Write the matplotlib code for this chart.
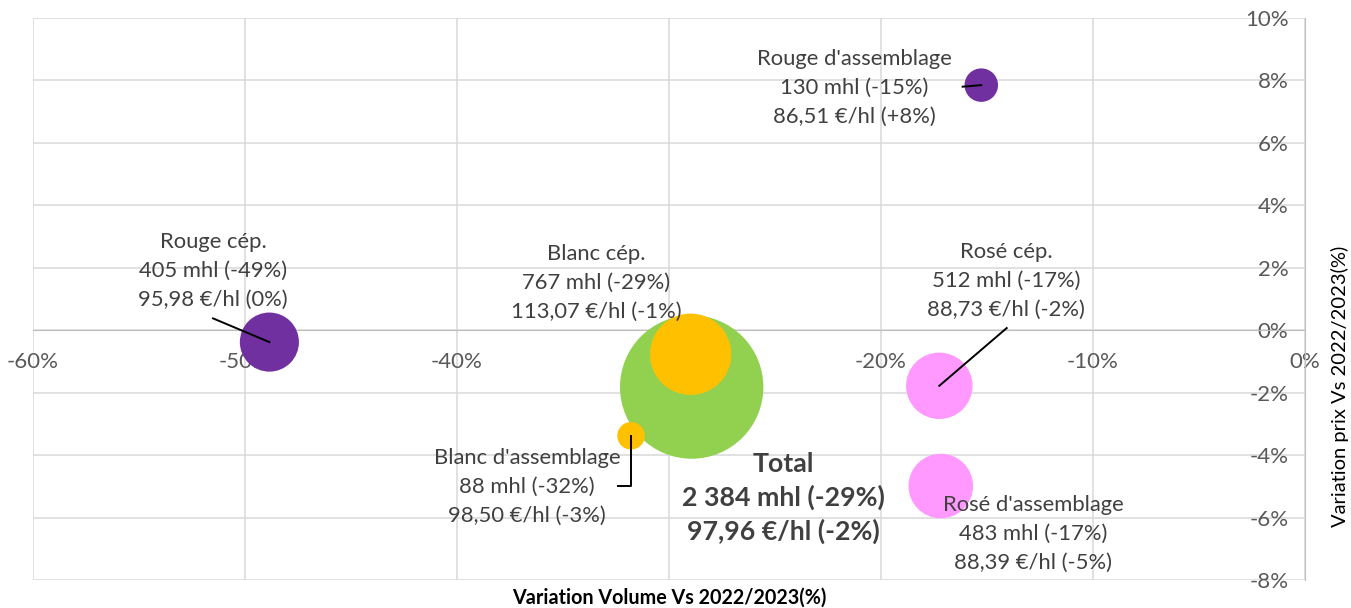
import matplotlib
matplotlib.use("Agg")
import matplotlib.pyplot as plt
from matplotlib.ticker import FuncFormatter

plt.rcParams['font.family'] = ['Lato', 'DejaVu Sans']

# Données (variations en %)
noms = ["Total", "Blanc cép.", "Blanc d'assemblage", "Rouge cép.",
        "Rouge d'assemblage", "Rosé cép.", "Rosé d'assemblage"]
var_volume = [-28.93, -28.98, -31.79, -48.85, -15.27, -17.25, -17.18]
var_prix = [-1.82, -0.77, -3.38, -0.38, 7.85, -1.78, -4.99]
volumes = [2384, 767, 88, 405, 130, 512, 483]
etiquettes = [
    "Total\n2 384 mhl (-29%)\n97,96 €/hl (-2%)",
    "Blanc cép.\n767 mhl (-29%)\n113,07 €/hl (-1%)",
    "Blanc d'assemblage\n88 mhl (-32%)\n98,50 €/hl (-3%)",
    "Rouge cép.\n405 mhl (-49%)\n95,98 €/hl (0%)",
    "Rouge d'assemblage\n130 mhl (-15%)\n86,51 €/hl (+8%)",
    "Rosé cép.\n512 mhl (-17%)\n88,73 €/hl (-2%)",
    "Rosé d'assemblage\n483 mhl (-17%)\n88,39 €/hl (-5%)",
]
x_ticks = [-60, -50, -40, -30, -20, -10, 0]
y_ticks = [-8, -6, -4, -2, 0, 2, 4, 6, 8, 10]

# Style
couleurs = ["#92D050", "#FFC000", "#FFC000", "#7030A0", "#7030A0", "#FF99FF", "#FF99FF"]
pos_etiq = [(-24.62, -5.38), (-33.44, 1.51), (-36.70, -5.03), (-51.51, 1.89),
            (-21.27, 7.76), (-14.10, 1.57), (-12.83, -6.51)]
# lignes de rappel (départ -> centre de la bulle)
rappels = {
    2: [(-32.41, -4.99), (-31.79, -4.99)],
    3: [(-51.51, 0.38)],
    4: [(-16.15, 7.80)],
    5: [(-14.07, 0.07)],
}
gris_txt = "#404040"
gris_tick = "#595959"

fig = plt.figure(figsize=(13.51, 6.08), dpi=100)
ax = fig.add_axes([33/1351, 28/608, 1272/1351, 562/608])
ax.set_xlim(-60, 0)
ax.set_ylim(-8, 10)

k = 10657 / 2384  # taille des bulles proportionnelle au volume
for i in range(len(noms)):
    ax.scatter(var_volume[i], var_prix[i], s=volumes[i]*k, color=couleurs[i],
               edgecolors='none', zorder=3)

for i, txt in enumerate(etiquettes):
    gras = (i == 0)
    ax.text(pos_etiq[i][0], pos_etiq[i][1], txt, ha='center', va='center',
            fontsize=19.3 if gras else 15.8, fontweight='bold' if gras else 'normal',
            color=gris_txt, linespacing=1.42 if gras else 1.56, zorder=5)

for i, pts in rappels.items():
    xs = [p[0] for p in pts] + [var_volume[i]]
    ys = [p[1] for p in pts] + [var_prix[i]]
    ax.plot(xs, ys, color='black', lw=1.4, zorder=4)

ax.set_xticks(x_ticks)
ax.set_yticks(y_ticks)
ax.grid(True, color='#D9D9D9', lw=1.1, zorder=0)
ax.set_axisbelow(True)
for s in ['top', 'right']:
    ax.spines[s].set_visible(False)
ax.spines['bottom'].set_position(('data', 0))
ax.spines['left'].set_position(('data', 0))
ax.spines['bottom'].set_color('#BFBFBF')
ax.spines['left'].set_color('#BFBFBF')
ax.tick_params(length=0, labelsize=16, labelcolor=gris_tick)
ax.tick_params(axis='x', pad=16)
ax.tick_params(axis='y', pad=12)
pct = FuncFormatter(lambda v, p: f"{v:.0f}%")
ax.xaxis.set_major_formatter(pct)
ax.yaxis.set_major_formatter(pct)

fig.text(669/1351, 1 - 598/608, "Variation Volume Vs 2022/2023(%)", ha='center', va='center',
         fontsize=14.2, fontweight='bold', color='black')
fig.text(1340/1351, 1 - 386/608, "Variation prix Vs 2022/2023(%)", ha='center', va='center',
         rotation=90, fontsize=14.5, color='black')

fig.savefig("out.png", dpi=100)
